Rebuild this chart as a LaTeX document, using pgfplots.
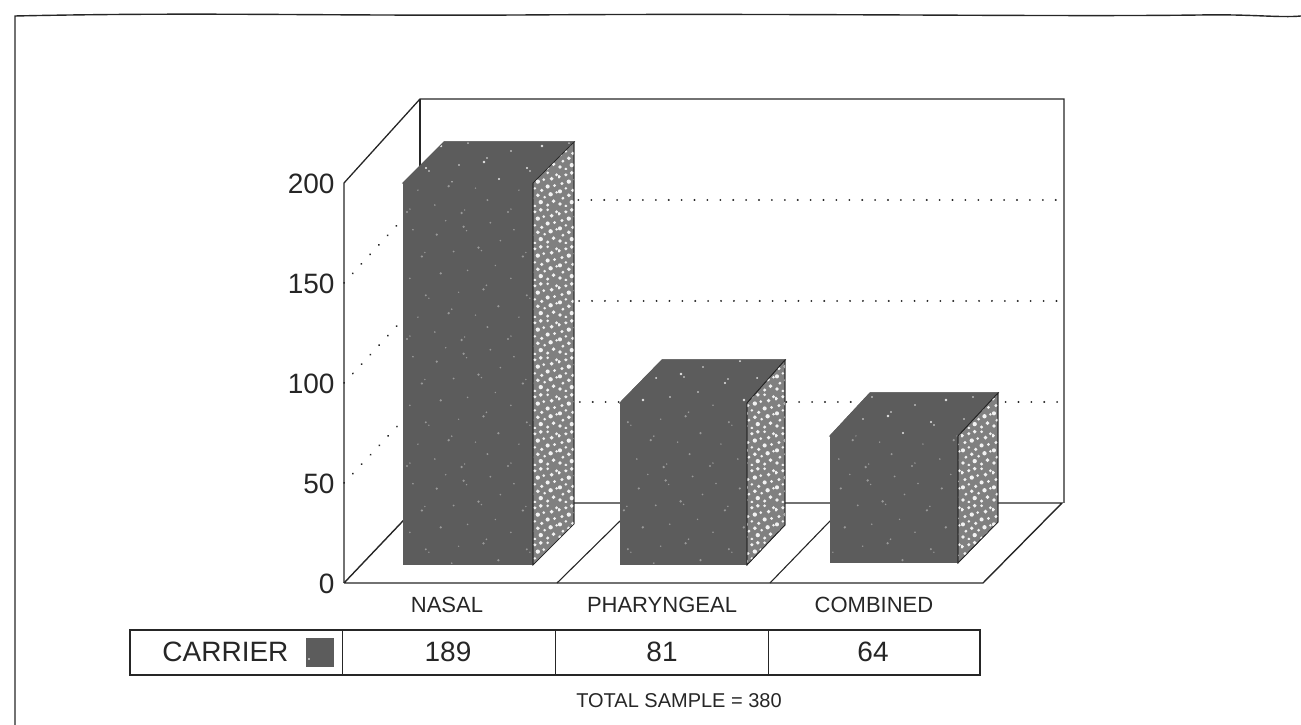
\documentclass[border=0pt]{standalone}
\usepackage{fontspec}
\setmainfont{Liberation Sans}
\usepackage{pgfplots}
\pgfplotsset{compat=1.18}
\usetikzlibrary{patterns}
% deterministic irregular speckle tiles
\pgfdeclarepatternformonly{speckA}{\pgfpointorigin}{\pgfqpoint{101pt}{127pt}}{\pgfqpoint{101pt}{127pt}}{%
  \foreach \x/\y/\r in {3/5/1.2,6/8/0.8,31/12/0.9,58/4/1.3,61/7/0.8,84/17/1.1,14/27/0.8,45/31/1.3,48/35/0.9,72/29/0.8,95/38/1.2,22/49/1.1,25/46/0.8,55/52/0.8,80/55/1.3,83/59/0.9,6/66/0.9,37/71/1.3,64/74/0.9,92/79/0.8,18/88/1.2,21/92/0.8,50/93/1.0,75/97/1.3,78/94/0.8,97/104/0.9,33/110/1.2,9/115/0.9,60/118/1.3,63/114/0.8,87/122/1.0,42/124/0.8}{
    \pgfpathcircle{\pgfqpoint{\x pt}{\y pt}}{\r pt}}
  \pgfusepath{fill}}
\pgfdeclarepatternformonly{speckB}{\pgfpointorigin}{\pgfqpoint{31pt}{37pt}}{\pgfqpoint{31pt}{37pt}}{%
  \foreach \x/\y/\r in {2/3/1.9,8/1/1.5,14/5/2.2,21/2/1.7,27/6/2.0,5/9/1.6,11/12/2.0,18/10/1.5,24/13/2.2,30/15/1.4,2/16/2.1,8/19/1.4,15/17/1.8,21/21/2.1,28/22/1.6,4/24/1.7,11/26/2.2,17/28/1.5,25/29/2.0,30/33/1.6,1/31/2.0,8/33/1.7,14/35/2.0,21/35/1.5}{
    \pgfpathcircle{\pgfqpoint{\x pt}{\y pt}}{\r pt}}
  \pgfusepath{fill}}
\definecolor{ink}{gray}{0.15}
\definecolor{barfront}{gray}{0.36}
\definecolor{barside}{gray}{0.5}
\tikzset{front/.style={draw=barfront,line width=1pt,fill=barfront,postaction={pattern=speckA,pattern color=gray!80}},
  topf/.style={draw=barfront,line width=1pt,fill=barfront,postaction={pattern=speckA,pattern color=white!90!black}},
  sidef/.style={draw=ink,line width=0.7pt,fill=barside,postaction={pattern=speckB,pattern color=white!95!black}}}
\newcommand{\fs}[1]{\fontsize{#1}{#1}\selectfont}
\begin{document}
\begin{tikzpicture}[x=1pt,y=1pt]
\path[use as bounding box] (0,0) rectangle (1301,725);
\begin{axis}[
  at={(344pt,142pt)},anchor=origin,
  scale only axis,width=639pt,height=400pt,
  xmin=344,xmax=983,ymin=0,ymax=200,
  clip=false,
  axis line style={draw=none},
  major tick length=0pt,
  /pgf/number format/assume math mode=true,
  ytick={0,50,100,150,200},
  xtick={447,662,874},
  xticklabels={NASAL,PHARYNGEAL,COMBINED},
  tick label style={text=ink},
  yticklabel style={font=\fs{28},xshift=-6pt,yshift=-0.5pt},
  xticklabel style={font=\fs{22},yshift=-11pt},
]
% walls
\addplot[ink,line width=1.3pt] coordinates {(344,0)(344,200)(420,242)(1064,242)(1064,40)};
\addplot[ink,line width=1.3pt] coordinates {(420,242)(420,40)};
% floor
\addplot[ink,line width=1.4pt] coordinates {(344,0)(983,0)(1062,40)(420,40)(344,0)};
\addplot[ink,line width=1.1pt] coordinates {(557,0)(620,31)};
\addplot[ink,line width=1.1pt] coordinates {(770,0)(830,31)};
% gridlines
\foreach \f/\b in {50/90.5,100/141,150/191.5}{
  \edef\temp{\noexpand\addplot[ink,line width=2pt,line cap=round,dash pattern=on 0.1pt off 12.8pt] coordinates {(344,\f)(420,\b)(1064,\b)};}
  \temp
}
% bars: faces
\addplot[front] coordinates {(403,9)(533,9)(533,200)(403,200)} -- cycle;
\addplot[topf] coordinates {(403,200)(533,200)(574,220.5)(444,220.5)} -- cycle;
\addplot[sidef] coordinates {(533,9)(574,29.5)(574,220.5)(533,200)} -- cycle;
\addplot[front] coordinates {(620,9)(747,9)(747,90)(620,90)} -- cycle;
\addplot[topf] coordinates {(620,90)(747,90)(785,111.5)(662,111.5)} -- cycle;
\addplot[sidef] coordinates {(747,9)(785,29)(785,111.5)(747,90)} -- cycle;
\addplot[front] coordinates {(830,10)(958,10)(958,73.5)(830,73.5)} -- cycle;
\addplot[topf] coordinates {(830,73.5)(958,73.5)(998,95)(870,95)} -- cycle;
\addplot[sidef] coordinates {(958,10)(998,30.5)(998,95)(958,73.5)} -- cycle;
\end{axis}
\begin{scope}[shift={(0,725)},y=-1pt,x=1pt]
% page frame
\draw[ink,line width=1.4pt] (15,725) -- (15,16) .. controls (200,12) and (320,16) .. (520,15) .. controls (800,13) and (1050,17) .. (1200,15) .. controls (1250,14) and (1280,18) .. (1301,16);
% table
\draw[ink,line width=1.2pt] (130,630) rectangle (980,675);
\draw[ink,line width=0.9pt] (342,630) -- (342,675) (555,630) -- (555,675) (768,630) -- (768,675);
\fill[barfront,postaction={pattern=speckA,pattern color=white}] (306,638) rectangle (334,667);
\node[anchor=base east,text=ink,font=\fs{28}] at (292,662) {CARRIER};
\node[anchor=base,text=ink,font=\fs{28}] at (448,662) {189};
\node[anchor=base,text=ink,font=\fs{28}] at (662,662) {81};
\node[anchor=base,text=ink,font=\fs{28}] at (873,662) {64};
\node[anchor=base,text=ink,font=\fs{20}] at (679,708) {TOTAL SAMPLE = 380};
\end{scope}
\end{tikzpicture}
\end{document}
